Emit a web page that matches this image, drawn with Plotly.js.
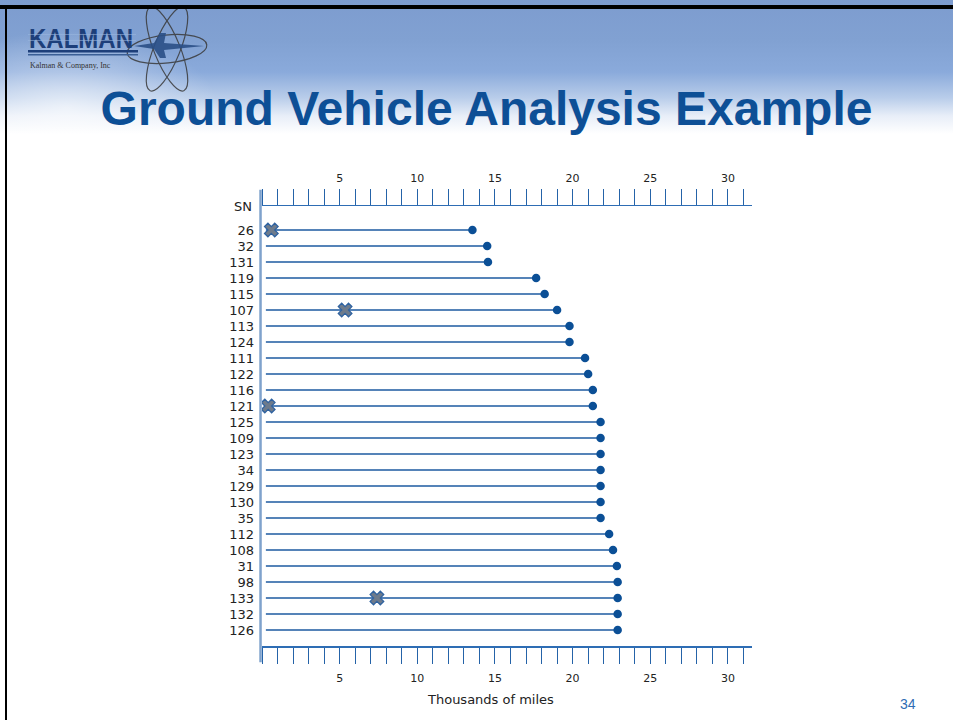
<!DOCTYPE html>
<html>
<head>
<meta charset="utf-8">
<script src="https://cdn.plot.ly/plotly-3.0.1.min.js"></script>
<style>
  html, body { margin:0; padding:0; background:#fff; }
  #wrap { position:relative; width:953px; height:720px; overflow:hidden; background:#fff; }
  #bg { position:absolute; left:0; top:0; width:953px; height:140px;
        background: linear-gradient(to bottom, #7d9ccf 0px, #81a1d2 40px, #8aaadb 72px, #b9cdea 98px, #e8eef8 116px, #ffffff 134px); }
  #glow { position:absolute; left:0; top:30px; width:220px; height:120px;
          background: radial-gradient(ellipse at 30% 65%, rgba(255,255,255,0.6), rgba(255,255,255,0) 70%); }
  #topbar { position:absolute; left:0; top:5px; width:953px; height:4px; background:#000; }
  #leftbar { position:absolute; left:5px; top:5px; width:2px; height:715px; background:#000; }
  #logo { position:absolute; left:0; top:0; }
  #plot { position:absolute; left:0; top:0; width:953px; height:720px; }
</style>
</head>
<body>
<div id="wrap">
  <div id="bg"></div>
  <div id="glow"></div>
  <svg id="logo" width="240" height="110" viewBox="0 0 240 110">
    <g fill="none" stroke="#3a3a3a" stroke-width="1.2" opacity="0.85">
      <ellipse cx="167" cy="49" rx="40" ry="14" transform="rotate(-6 167 49)"/>
      <ellipse cx="167" cy="49" rx="45" ry="13" transform="rotate(68 167 49)"/>
      <ellipse cx="167" cy="49" rx="45" ry="13" transform="rotate(-68 167 49)"/>
    </g>
    <path d="M134 46 L154 43 L160 33 L166 33 L164 43 L204 46 L164 50 L166 58 L160 58 L154 49 Z" fill="#2a4f86" opacity="0.9"/>
    <text x="29" y="48" font-family="Liberation Sans, Arial" font-weight="bold" font-size="28" fill="#1d3f7a" textLength="104" lengthAdjust="spacingAndGlyphs">KALMAN</text>
    <rect x="28" y="34" width="108" height="0.8" fill="#9bb8e0" opacity="0.7"/>
    <rect x="28" y="40" width="108" height="0.8" fill="#9bb8e0" opacity="0.7"/>
    <rect x="28" y="50" width="110" height="2.5" fill="#1d3f7a"/>
    <rect x="28" y="54" width="110" height="1.5" fill="#3a5f96"/>
    <text x="30" y="68" font-family="Liberation Serif, Times New Roman" font-size="8" fill="#333">Kalman &amp; Company, Inc</text>
  </svg>
  <div id="topbar"></div>
  <div id="leftbar"></div>
  <div id="plot"></div>
</div>
<script>
// ---- data ----
var serialNumbers = ['26','32','131','119','115','107','113','124','111','122','116','121','125',
                     '109','123','34','129','130','35','112','108','31','98','133','132','126'];
var startMiles = [0.25,0.25,0.25,0.25,0.25,0.25,0.25,0.25,0.25,0.25,0.25,0.25,0.25,
                  0.25,0.25,0.25,0.25,0.25,0.25,0.25,0.25,0.25,0.25,0.25,0.25,0.25];
var endMiles = [13.55,14.5,14.55,17.65,18.2,19.0,19.8,19.8,20.8,21.0,21.3,21.3,21.8,
                21.8,21.8,21.8,21.8,21.8,21.8,22.35,22.6,22.85,22.9,22.9,22.9,22.9];
var failureSN = ['26','107','121','133'];
var failureMiles = [0.6,5.35,0.4,7.4];
var tickValues = [5,10,15,20,25,30];
var tickLabels = ['5','10','15','20','25','30'];

// ---- build traces ----
var lx = [], ly = [];
for (var i = 0; i < serialNumbers.length; i++) {
  lx.push(startMiles[i], endMiles[i], null);
  ly.push(serialNumbers[i], serialNumbers[i], null);
}
var traces = [
  { x: lx, y: ly, mode: 'lines', type: 'scatter', line: {color: '#1d5aa0', width: 1.5},
    hoverinfo: 'skip', showlegend: false },
  { x: endMiles, y: serialNumbers, mode: 'markers', type: 'scatter',
    marker: {color: '#0b4f96', size: 8.5}, showlegend: false },
  { x: failureMiles, y: failureSN, mode: 'markers', type: 'scatter',
    marker: {symbol: 'x', color: '#6e7b8c', size: 12, line: {color: '#2f62a0', width: 1.3}},
    showlegend: false },
  { x: [endMiles[0]], y: [serialNumbers[0]], xaxis: 'x2', mode: 'markers', type: 'scatter',
    marker: {opacity: 0}, hoverinfo: 'skip', showlegend: false }
];

var axisFont = {family: 'DejaVu Sans, Verdana, sans-serif', size: 11, color: '#222'};
var xrange = [0, 31.55];
var commonX = {
  range: xrange, autorange: false,
  tickmode: 'array', tickvals: tickValues, ticktext: tickLabels,
  ticks: 'outside', ticklen: 16, tickcolor: '#2563a8', tickwidth: 1,
  minor: {dtick: 1, tick0: 0, ticks: 'outside', ticklen: 16, tickcolor: '#2563a8', tickwidth: 1, showgrid: false},
  showline: true, linecolor: '#2e6db4', linewidth: 1.5,
  showgrid: false, zeroline: false, tickfont: axisFont
};

var layout = {
  width: 953, height: 720,
  margin: {l: 262, r: 201, t: 206, b: 74},
  paper_bgcolor: 'rgba(0,0,0,0)', plot_bgcolor: 'rgba(0,0,0,0)',
  title: {
    text: 'Ground Vehicle Analysis Example',
    font: {family: 'Liberation Sans, Arial, sans-serif', size: 48, color: '#0d4f96', weight: 'bold'},
    xref: 'container', x: 486.5/953, xanchor: 'center',
    yref: 'container', y: 1 - 108/720, yanchor: 'middle'
  },
  xaxis: Object.assign({}, commonX, {side: 'bottom', ticklabelstandoff: 5}),
  xaxis2: Object.assign({}, commonX, {side: 'top', overlaying: 'x', anchor: 'y', ticklabelstandoff: 2}),
  yaxis: {
    type: 'category', categoryorder: 'array', categoryarray: serialNumbers,
    range: [26, -1.5], autorange: false,
    showline: false, showgrid: false, zeroline: false, ticks: '',
    ticklabelstandoff: 7,
    tickfont: {family: 'DejaVu Sans, Verdana, sans-serif', size: 13, color: '#222'}
  },
  shapes: [
    {type: 'line', xref: 'paper', yref: 'paper', x0: -0.003, x1: -0.003, y0: -0.037, y1: 1.037,
     line: {color: '#7fa2cc', width: 2.5}}
  ],
  annotations: [
    {text: 'SN', xref: 'paper', yref: 'paper', x: -0.016, y: 1.0, xanchor: 'right', yanchor: 'middle',
     showarrow: false, font: {family: 'DejaVu Sans, Verdana, sans-serif', size: 13, color: '#222'}},
    {text: 'Thousands of miles', xref: 'paper', yref: 'paper', x: (490-262)/490, y: (646-699)/440,
     xanchor: 'center', yanchor: 'middle', showarrow: false,
     font: {family: 'DejaVu Sans, Verdana, sans-serif', size: 13, color: '#222'}},
    {text: '34', xref: 'paper', yref: 'paper', x: (908-262)/490, y: (646-704)/440, xanchor: 'center', yanchor: 'middle',
     showarrow: false, font: {family: 'Liberation Sans, Arial, sans-serif', size: 14, color: '#2e6db4'}}
  ]
};

Plotly.newPlot('plot', traces, layout, {displayModeBar: false, staticPlot: true});
</script>
</body>
</html>
